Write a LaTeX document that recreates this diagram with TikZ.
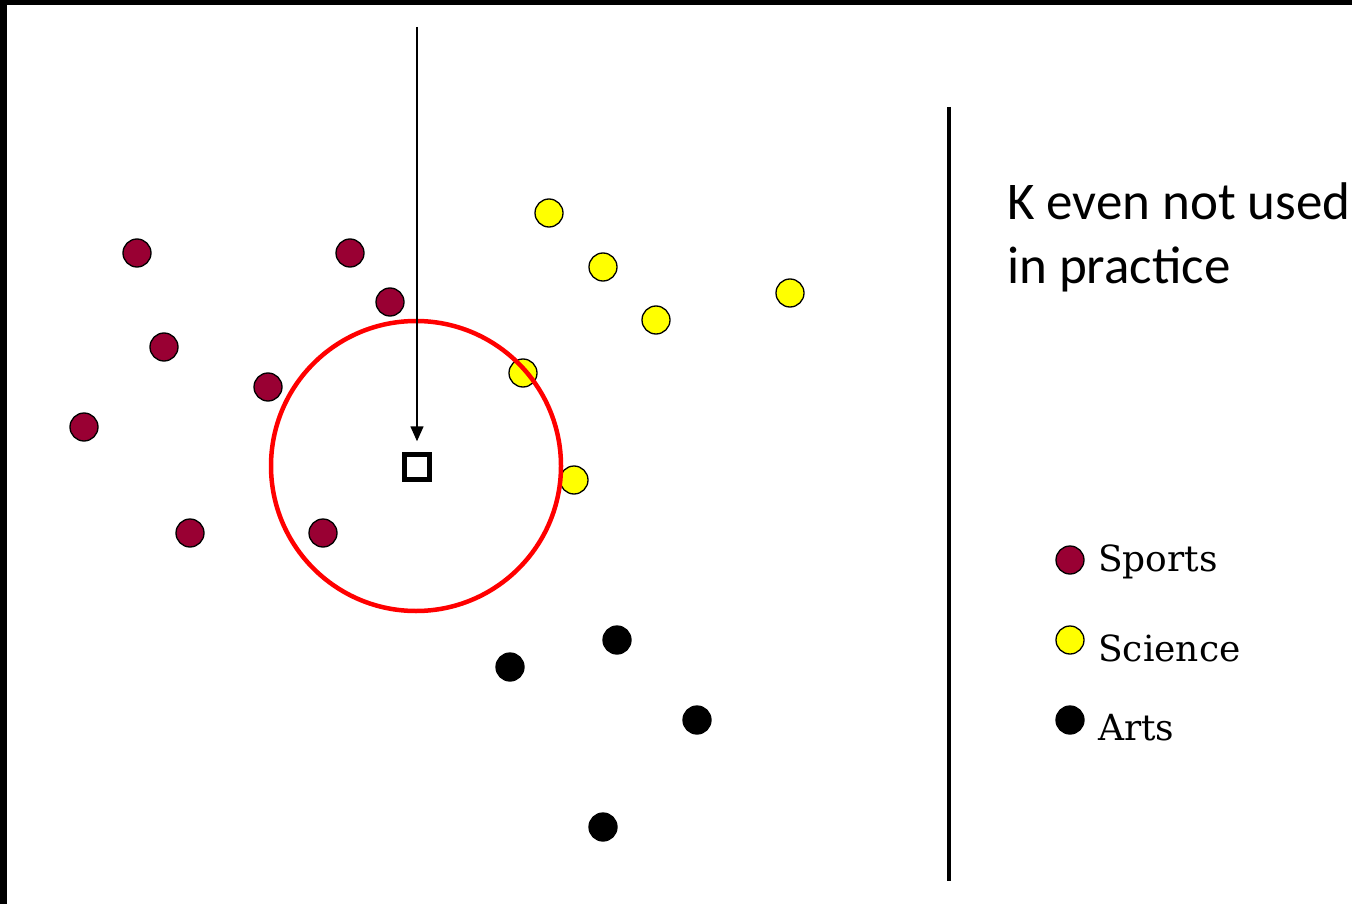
\documentclass[tikz,border=0pt]{standalone}
\usepackage{fontspec}
\setmainfont{DejaVu Serif}
\newfontfamily\calib{Carlito}
\usetikzlibrary{arrows.meta}
\definecolor{maroon}{RGB}{153,0,51}
\definecolor{yel}{RGB}{255,255,0}
\tikzset{
  dot/.style={circle,draw=black,line width=1.3pt,minimum size=28pt,inner sep=0pt},
  sports/.style={dot,fill=maroon},
  science/.style={dot,fill=yel},
  arts/.style={dot,fill=black},
  legtext/.style={anchor=base west,inner sep=0pt,font=\fontsize{36}{40}\selectfont},
}
\begin{document}
\begin{tikzpicture}[x=1pt,y=-1pt]
\useasboundingbox (0,0) rectangle (1352,904);
\fill[white] (0,0) rectangle (1352,904);
\fill[black] (0,0) rectangle (1352,5);
\fill[black] (0,0) rectangle (7,904);
% sports
\node[sports] (s1) at (137,253) {};
\node[sports] (s2) at (350,253) {};
\node[sports] (s3) at (390,302) {};
\node[sports] (s4) at (164,347) {};
\node[sports] (s5) at (268,387) {};
\node[sports] (s6) at (84,427) {};
\node[sports] (s7) at (190,533) {};
\node[sports] (s8) at (323,533) {};
% science
\node[science] (c1) at (549,213) {};
\node[science] (c2) at (603,267) {};
\node[science] (c3) at (656,320) {};
\node[science] (c4) at (790,293) {};
\node[science] (c5) at (523,373) {};
\node[science] (c6) at (574,480) {};
% arts
\node[arts] (a1) at (617,640) {};
\node[arts] (a2) at (510,667) {};
\node[arts] (a3) at (697,720) {};
\node[arts] (a4) at (603,827) {};
% circle and query
\node[circle,draw=red,line width=4.5pt,minimum size=290pt,inner sep=0pt] (ring) at (416,466) {};
\node[draw=black,line width=4.5pt,minimum size=25pt,inner sep=0pt] (q) at (417,467) {};
\coordinate (top) at (417,27);
\draw[line width=1.6pt,-{Triangle[length=15pt,width=13pt]},shorten >=11pt] (top) -- (q.north);
% divider
\coordinate (d1) at (949,107);
\coordinate (d2) at (949,881);
\draw[line width=4pt] (d1) -- (d2);
% note
\node[anchor=north west,inner sep=0pt,align=left,font=\calib\fontsize{53}{64}\selectfont] (note) at (1007,182) {K even not used\\in practice};
% legend
\node[sports] (l1) at (1070,560) {};
\node[science] (l2) at (1070,640) {};
\node[arts] (l3) at (1070,720) {};
\node[legtext] (t1) at (1098,571) {Sports};
\node[legtext] (t2) at (1098,661) {Science};
\node[legtext] (t3) at (1098,740) {Arts};
\end{tikzpicture}
\end{document}
